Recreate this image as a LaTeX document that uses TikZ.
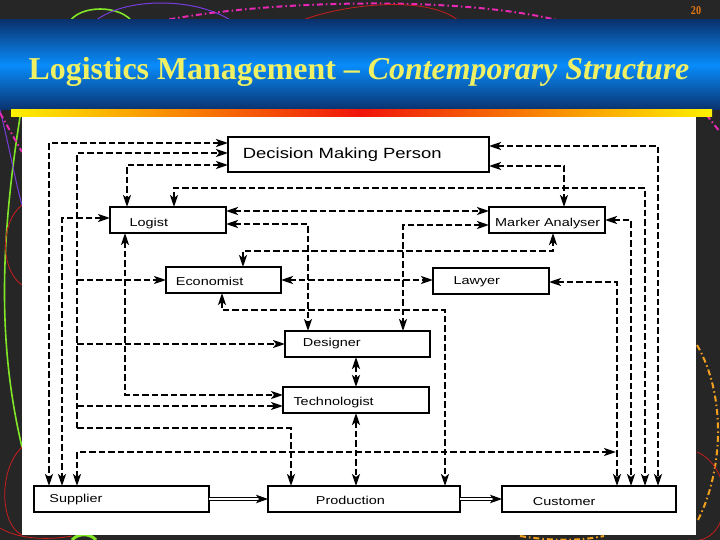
\documentclass[tikz,border=0pt]{standalone}
\usepackage{fontspec}
\usepackage{graphicx}
\setmainfont{Liberation Serif}
\newfontfamily\arialf{Liberation Sans}
\usetikzlibrary{arrows.meta}

\definecolor{bgdark}{RGB}{38,38,38}
\definecolor{titleyellow}{RGB}{240,240,100}
\definecolor{pagenum}{RGB}{230,120,20}
\definecolor{banddark}{RGB}{10,50,110}
\definecolor{bandbright}{RGB}{8,140,250}
\definecolor{baryellow}{RGB}{255,240,0}
\definecolor{barred}{RGB}{240,20,10}
\definecolor{decopink}{RGB}{230,40,180}
\definecolor{decogreen}{RGB}{130,230,40}
\definecolor{decopurple}{RGB}{120,60,220}
\definecolor{decored}{RGB}{200,30,30}
\definecolor{decoorange}{RGB}{240,160,30}

\newcommand{\wtxt}[1]{\scalebox{1.26}[1]{#1}}

\tikzset{
  myhead/.tip={Stealth[length=12bp,width=8bp,inset=3bp]},
  bighead/.tip={Stealth[length=12bp,width=8.5bp,inset=3bp]},
}

\begin{document}
\begin{tikzpicture}[x=1bp,y=-1bp,
  box/.style={draw=black, line width=1.7bp, fill=white, inner sep=0pt, outer sep=0pt},
  lbl/.style={anchor=base west, inner sep=0pt, font=\arialf\fontsize{11.5}{13}\selectfont},
  dl/.style={line width=2.1bp, dash pattern=on 6.5bp off 3bp, arrows={myhead-myhead}},
  dlend/.style={line width=2.1bp, dash pattern=on 6.5bp off 3bp, arrows={-myhead}},
  dbl/.style={line width=1bp, double distance=2.6bp, arrows={-bighead}},
  deco/.style={line width=1.6bp},
  decodd/.style={line width=2bp, dash pattern=on 6bp off 3bp on 1.5bp off 3bp},
]
\useasboundingbox (0,0) rectangle (720,540);
\fill[bgdark] (0,0) rectangle (720,540);

% decorative arcs
\draw[deco, decogreen] (68,24) .. controls (78,4) and (122,4) .. (134,24);
\draw[deco, decopurple, line width=1bp] (92,24) .. controls (120,-4) and (200,-4) .. (236,24);
\draw[decodd, decopink] (156,22) .. controls (260,0) and (470,-6) .. (572,24);
\draw[decored, line width=0.8bp] (298,22) .. controls (340,4) and (430,-6) .. (460,22);
\draw[decodd, decopink] (698,104) -- (720,132);
\draw[decodd, decoorange] (697,345) .. controls (726,395) and (724,470) .. (697,522);
\draw[decored, line width=0.8bp] (697,452) .. controls (738,470) and (732,548) .. (688,540);
\draw[decodd, decoorange] (520,536) .. controls (550,541) and (580,541) .. (604,536);
\draw[deco, decogreen, line width=3bp] (72,540) .. controls (78,533) and (90,533) .. (96,540);
\draw[decored, line width=0.8bp] (0,528) .. controls (20,540) and (50,540) .. (72,536);
\draw[deco, decogreen] (20,117) .. controls (-1,250) and (-1,350) .. (22,447);
\draw[decored, line width=0.8bp] (22,205) .. controls (0,222) and (0,270) .. (22,285);
\draw[decored, line width=0.8bp] (22,447) .. controls (-2,470) and (0,525) .. (22,535);
\draw[decopurple, line width=1bp] (0,110) .. controls (10,150) and (15,180) .. (22,205);
\draw[decodd, decopink] (0,113) -- (22,152);

% title band
\shade[top color=banddark, bottom color=banddark, middle color=bandbright] (0,20) rectangle (720,110);
\shade[left color=baryellow, right color=barred] (11,110) rectangle (361,117);
\shade[left color=barred, right color=baryellow] (361,110) rectangle (712,117);
\fill[white] (22,117) rectangle (696,535);

\node[anchor=base, inner sep=0pt, font=\fontsize{32}{36}\selectfont\bfseries, text=titleyellow] (title) at (359,80)
  {Logistics Management \textendash{} \textit{Contemporary Structure}};
\node[anchor=base, inner sep=0pt, font=\fontsize{12}{12}\selectfont\bfseries, text=pagenum] (pnum) at (696,15) {\scalebox{0.85}[1]{20}};

% boxes
\node[box, minimum width=261bp, minimum height=35bp] (dmp) at (358.5,154.5) {};
\node[box, minimum width=116bp, minimum height=26bp] (logist) at (168,220) {};
\node[box, minimum width=115bp, minimum height=26bp] (econ) at (223.5,280) {};
\node[box, minimum width=116bp, minimum height=26bp] (ma) at (547,220) {};
\node[box, minimum width=116bp, minimum height=26bp] (lawyer) at (491,281) {};
\node[box, minimum width=145bp, minimum height=26bp] (des) at (357.5,344) {};
\node[box, minimum width=146bp, minimum height=26bp] (tech) at (356,400) {};
\node[box, minimum width=175bp, minimum height=26bp] (sup) at (121.5,499) {};
\node[box, minimum width=192bp, minimum height=26bp] (prod) at (364,499) {};
\node[box, minimum width=174bp, minimum height=26bp] (cust) at (589,499) {};

% labels
\node[lbl, font=\arialf\fontsize{14.8}{16}\selectfont] (tdmp) at (242.7,158.3) {\scalebox{1.25}[1]{Decision Making Person}};
\node[lbl] (tlog) at (129.3,226.7) {\wtxt{Logist}};
\node[lbl] (teco) at (175.7,285.7) {\wtxt{Economist}};
\node[lbl] (tma) at (495,226.7) {\wtxt{Marker Analyser}};
\node[lbl] (tlaw) at (453.3,285) {\wtxt{Lawyer}};
\node[lbl] (tdes) at (302.7,346.7) {\wtxt{Designer}};
\node[lbl] (ttech) at (293.3,405.5) {\wtxt{Technologist}};
\node[lbl] (tsup) at (49.3,502) {\wtxt{Supplier}};
\node[lbl] (tprod) at (315.7,504) {\wtxt{Production}};
\node[lbl] (tcust) at (532.7,505.5) {\wtxt{Customer}};

% connectors
\draw[dl] ([yshift=11.5bp]dmp.west) -| ([xshift=-72.5bp]sup.north);
\coordinate (j2) at (77,428);
\coordinate (tw) at ([yshift=-6bp]tech.west);
\draw[dlend] (j2) |- ([yshift=1.5bp]dmp.west);
\draw[dlend] (j2) -| ([xshift=-73bp]prod.north);
\draw[dlend] (j2 |- econ.west) -- (econ.west);
\draw[dlend] (j2 |- des.west) -- (des.west);
\draw[dlend] (j2 |- tw) -- (tw);
\draw[dl] ([yshift=2bp]logist.west) -| ([xshift=-59.5bp]sup.north);
\draw[dl] ([xshift=-43bp]logist.south) |- ([yshift=5bp]tech.west);
\draw[dl] ([yshift=-10.5bp]dmp.west) -| ([xshift=-41bp]logist.north);
\draw[dl] ([xshift=6bp]logist.north) -- ++(0,-19) -| ([xshift=56bp]cust.north);
\draw[dl] ([yshift=8.5bp]dmp.east) -| ([xshift=69bp]cust.north);
\draw[dl] (ma.east) -| ([xshift=42bp]cust.north);
\draw[dl] ([yshift=-1bp]lawyer.east) -| ([xshift=28bp]cust.north);
\draw[dl] ([yshift=-11.5bp]dmp.east) -| ([xshift=17bp]ma.north);
\draw[dl] ([yshift=9bp]logist.east) -- ([yshift=9bp]ma.west);
\draw[dl] ([yshift=-4bp]logist.east) -| ([xshift=-49.5bp]des.north);
\draw[dl] ([xshift=19.5bp]econ.north) -- ++(0,-16) -| ([xshift=6bp]ma.south);
\draw[dl] (econ.east) -- ([yshift=1bp]lawyer.west);
\draw[dl] ([xshift=-1.5bp]econ.south) -- ++(0,17) -| ([xshift=81bp]prod.north);
\draw[dl] ([yshift=-5bp]ma.west) -| ([xshift=45.5bp]des.north);
\draw[dl] (des.south -| tech.north) -- (tech.north);
\draw[dl] (tech.south) -- (tech.south |- prod.north);
\coordinate (c19) at (616,452);
\draw[dl] ([xshift=-44.5bp]sup.north) |- (c19);
\draw[dbl] (sup.east) -- (sup.east -| prod.west);
\draw[dbl] (prod.east) -- (prod.east -| cust.west);
\end{tikzpicture}
\end{document}
